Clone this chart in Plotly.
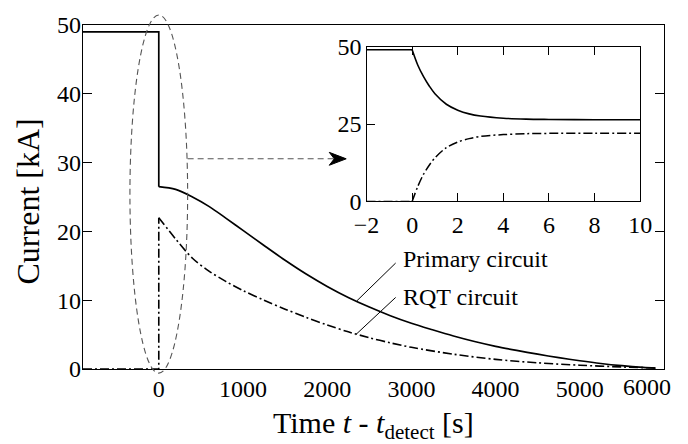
import plotly.graph_objects as go

# ---------------- data ----------------
t_primary = [-900, 0, 0, 200, 400, 600, 800, 1000, 1250, 1500, 1750, 2000, 2250, 2500,
             2750, 3000, 3250, 3500, 3750, 4000, 4250, 4500, 4750, 5000, 5250, 5500, 5750, 5900]
i_primary = [49, 49, 26.5, 26.1, 25.0, 23.6, 21.9, 20.15, 17.95, 15.8, 13.8, 12.0, 10.4, 9.0,
             7.75, 6.65, 5.7, 4.8, 4.0, 3.3, 2.7, 2.15, 1.65, 1.2, 0.8, 0.48, 0.23, 0.12]

t_rqt = [-900, 0, 0, 200, 400, 600, 800, 1000, 1250, 1500, 1750, 2000, 2250, 2500,
         2750, 3000, 3500, 4000, 4500, 5000, 5500, 5900]
i_rqt = [0, 0, 22, 18.9, 16.1, 14.2, 12.7, 11.4, 10.0, 8.7, 7.5, 6.4, 5.4, 4.55,
         3.8, 3.15, 2.15, 1.4, 0.9, 0.55, 0.3, 0.15]

t_inset = [-2, 0, 0.25, 0.5, 0.75, 1, 1.5, 2, 2.5, 3, 4, 5, 6, 8, 10]
i_inset_primary = [49, 49, 44.0, 40.3, 37.3, 34.8, 31.4, 29.5, 28.3, 27.6, 26.9, 26.6, 26.5, 26.4, 26.4]
i_inset_rqt = [0, 0, 4.9, 8.8, 11.7, 14.1, 17.4, 19.2, 20.3, 21.0, 21.6, 21.9, 22.0, 22.0, 22.0]

x_ticks = [0, 1000, 2000, 3000, 4000, 5000]
x_last_tick = 6000
y_ticks = [0, 10, 20, 30, 40, 50]
inset_x_ticks = [-2, 0, 2, 4, 6, 8, 10]
inset_y_ticks = [0, 25, 50]

x_range = [-900, 6000]
y_range = [0, 50]

FONT = "Liberation Serif"
DASHDOT = "9px,3px,2px,3px"


def split_at_step(ts, vs):
    """Split a series into the part before the step (linear) and after (smooth)."""
    k = [i for i in range(1, len(ts)) if ts[i] == ts[i - 1]]
    if k:
        j = k[0]
        return (ts[:j + 1], vs[:j + 1]), (ts[j:], vs[j:])
    j = ts.index(0)
    return (ts[:j + 1], vs[:j + 1]), (ts[j:], vs[j:])


fig = go.Figure()

for (ts, vs, xa, ya, dash, w) in [
    (t_primary, i_primary, "x", "y", None, 1.7),
    (t_rqt, i_rqt, "x", "y", DASHDOT, 1.6),
    (t_inset, i_inset_primary, "x2", "y2", None, 1.6),
    (t_inset, i_inset_rqt, "x2", "y2", DASHDOT, 1.5),
]:
    (t1, v1), (t2, v2) = split_at_step(ts, vs)
    ln = dict(color="black", width=w)
    if dash:
        ln["dash"] = dash
    fig.add_trace(go.Scatter(x=t1, y=v1, mode="lines", xaxis=xa, yaxis=ya,
                             line=dict(ln, shape="linear"), showlegend=False))
    fig.add_trace(go.Scatter(x=t2, y=v2, mode="lines", xaxis=xa, yaxis=ya,
                             line=dict(ln, shape="spline", smoothing=0.9), showlegend=False))

axis_common = dict(showline=True, linecolor="black", linewidth=1.3, showgrid=False,
                   zeroline=False, tickcolor="black", tickwidth=1.2)
tf = dict(family=FONT, size=24, color="black")

fig.update_layout(
    width=688, height=444,
    margin=dict(l=83, r=21, t=22, b=75),
    paper_bgcolor="white", plot_bgcolor="white",
    font=dict(family=FONT, color="black", size=24),
    xaxis=dict(domain=[0, 1], range=x_range, tickvals=x_ticks, ticks="", mirror=True,
               tickfont=tf, ticklabelstandoff=-2, **axis_common),
    yaxis=dict(domain=[0, 1], range=y_range, tickvals=y_ticks, ticks="inside", ticklen=9,
               mirror="ticks", tickfont=tf, ticklabelstandoff=-4, **axis_common),
    xaxis2=dict(domain=[0.488, 0.959], anchor="y2", range=[-2, 10], tickvals=inset_x_ticks,
                ticks="inside", ticklen=8, mirror="ticks", tickfont=tf,
                ticklabelstandoff=2, **axis_common),
    yaxis2=dict(domain=[0.487, 0.937], anchor="x2", range=[0, 50], tickvals=inset_y_ticks,
                ticks="inside", ticklen=8, mirror=True, tickfont=tf,
                ticklabelstandoff=-1, **axis_common),
)


def px_x(t):
    return (t - x_range[0]) / (x_range[1] - x_range[0])


plot_w = 688 - 83 - 21
plot_h = 444 - 22 - 75
GRAY = "#555555"

# dashed ellipse around t = 0
cx = px_x(0)
rx = 29 / plot_w
fig.add_shape(type="circle", xref="paper", yref="paper",
              x0=cx - rx, x1=cx + rx, y0=-0.012, y1=1.029,
              line=dict(color=GRAY, width=1.1, dash="6px,4px"), layer="above")

# dashed arrow to inset
arrow_y = 0.611
tip_x = 0.453
fig.add_shape(type="line", xref="paper", yref="paper",
              x0=cx + rx, x1=tip_x - 12 / plot_w, y0=arrow_y, y1=arrow_y,
              line=dict(color=GRAY, width=1.1, dash="6px,4px"))
hx, hy, nx = 17 / plot_w, 6.5 / plot_h, 12 / plot_w
fig.add_shape(type="path", xref="paper", yref="paper",
              path=(f"M {tip_x} {arrow_y} L {tip_x - hx} {arrow_y + hy} "
                    f"L {tip_x - nx} {arrow_y} L {tip_x - hx} {arrow_y - hy} Z"),
              fillcolor="black", line=dict(color="black", width=1))

# leader lines and labels
fig.add_shape(type="line", xref="x", yref="y", x0=2352, y0=9.9, x1=2813, y1=15.4,
              line=dict(color="black", width=1))
fig.add_shape(type="line", xref="x", yref="y", x0=2340, y0=5.0, x1=2813, y1=10.4,
              line=dict(color="black", width=1))
fig.add_annotation(xref="x", yref="y", x=2880, y=16.0, text="Primary circuit", showarrow=False,
                   xanchor="left", yanchor="middle", font=dict(family=FONT, size=24))
fig.add_annotation(xref="x", yref="y", x=2880, y=10.5, text="RQT circuit", showarrow=False,
                   xanchor="left", yanchor="middle", font=dict(family=FONT, size=24))

# last x tick label, pulled inside the canvas
fig.add_annotation(xref="x", yref="paper", x=x_last_tick, y=0, text=str(x_last_tick),
                   showarrow=False, xanchor="center", yanchor="top", xshift=-17, yshift=-3,
                   font=tf)

# axis titles
fig.add_annotation(xref="paper", yref="paper", x=0, y=0.487, xshift=-55, text="Current [kA]",
                   textangle=-90, showarrow=False, xanchor="center", yanchor="middle",
                   font=dict(family=FONT, size=32))
fig.add_annotation(xref="paper", yref="paper", x=0.5, y=0, yshift=-56,
                   text="Time <i>t</i> - <i>t</i><sub>detect</sub> [s]",
                   showarrow=False, xanchor="center", yanchor="middle",
                   font=dict(family=FONT, size=30))

fig.write_html("out.html")
